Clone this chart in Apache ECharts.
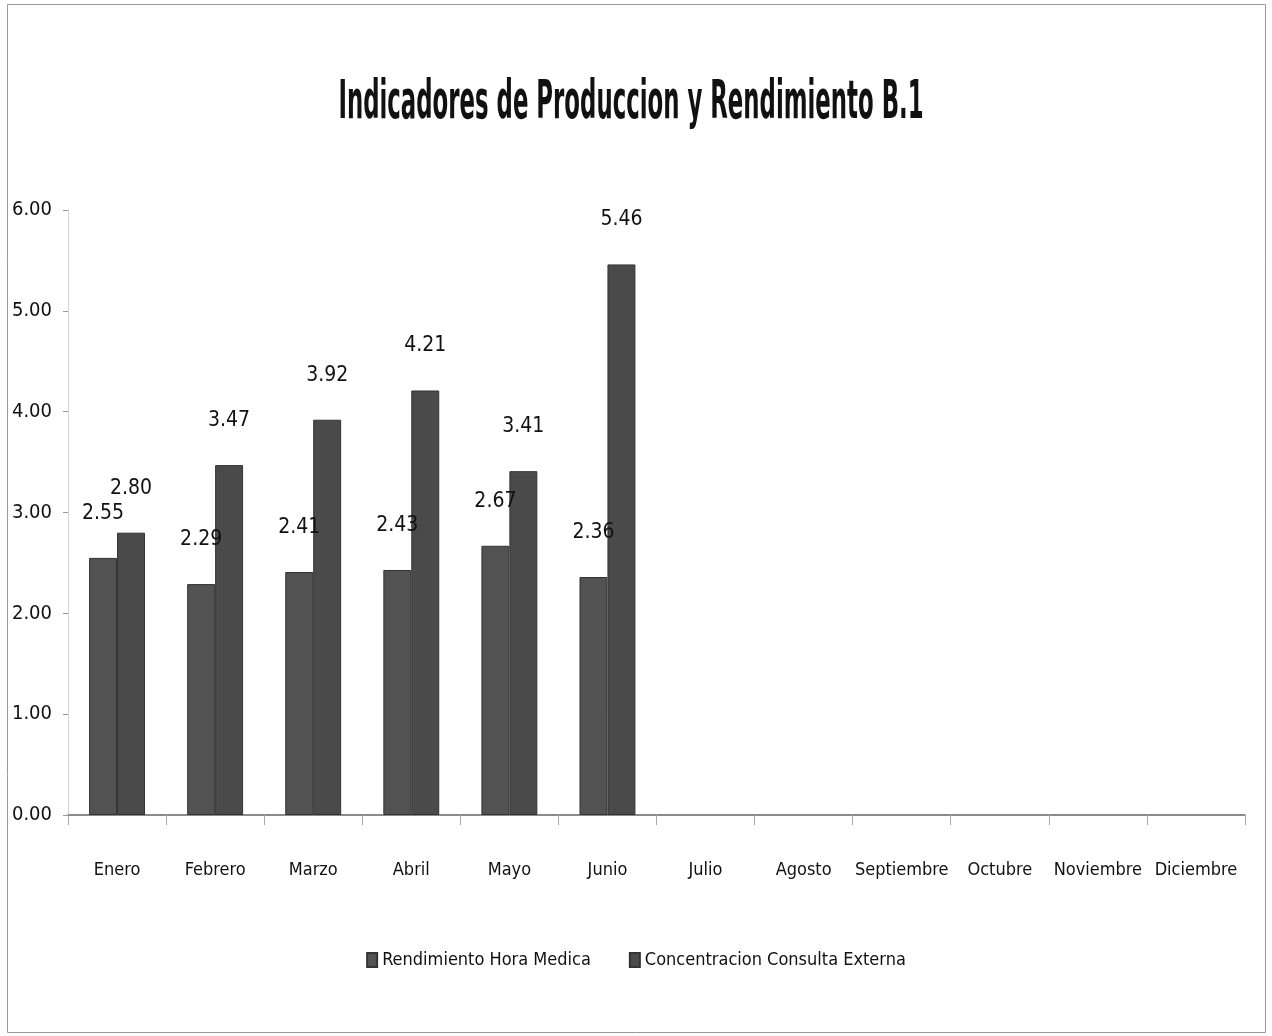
<!DOCTYPE html>
<html><head><meta charset="utf-8">
<script src="https://cdn.jsdelivr.net/npm/echarts@6/dist/echarts.min.js"></script>
<style>html,body{margin:0;padding:0;background:#fff}#c{width:1272px;height:1036px}</style>
</head><body><div id="c"></div>
<script>
const categories = ['Enero','Febrero','Marzo','Abril','Mayo','Junio','Julio','Agosto','Septiembre','Octubre','Noviembre','Diciembre'];
const rendimientoHoraMedica = [2.55, 2.29, 2.41, 2.43, 2.67, 2.36, null, null, null, null, null, null];
const concentracionConsultaExterna = [2.80, 3.47, 3.92, 4.21, 3.41, 5.46, null, null, null, null, null, null];
const seriesNames = ['Rendimiento Hora Medica', 'Concentracion Consulta Externa'];
const chartTitle = 'Indicadores de Produccion y Rendimiento B.1';
const yTicks = {min: 0, max: 6, interval: 1};

const FONT = "'DejaVu Sans Condensed','Liberation Sans Narrow','Liberation Sans',sans-serif";
const chart = echarts.init(document.getElementById('c'));
const lbl = {show: true, position: 'top', distance: 34, fontFamily: FONT, fontSize: 21, color: '#111',
  formatter: p => p.value == null ? '' : p.value.toFixed(2)};
chart.setOption({
  animation: false,
  textStyle: {fontFamily: FONT},
  legend: {top: 946, left: 'center', itemWidth: 10, itemHeight: 14, itemGap: 38, icon: 'rect',
    textStyle: {fontFamily: FONT, fontSize: 18, color: '#111'}, data: seriesNames},
  grid: {left: 68, right: 27, top: 210, bottom: 221},
  xAxis: {type: 'category', data: categories,
    axisLine: {lineStyle: {color: '#666', width: 1.5}},
    axisTick: {show: true, length: 10, lineStyle: {color: '#aaa'}},
    axisLabel: {fontFamily: FONT, fontSize: 18, color: '#111', margin: 46, interval: 0}},
  yAxis: {type: 'value', min: yTicks.min, max: yTicks.max, interval: yTicks.interval,
    axisLine: {show: true, lineStyle: {color: '#ccc', type: 'dotted'}},
    axisTick: {show: true, length: 5, lineStyle: {color: '#999'}},
    splitLine: {show: false},
    axisLabel: {fontFamily: FONT, fontSize: 20, color: '#111', margin: 16, formatter: v => v.toFixed(2)}},
  series: [
    {name: seriesNames[0], type: 'bar', data: rendimientoHoraMedica, barGap: '0%', barCategoryGap: '43%',
      itemStyle: {color: '#525252', borderColor: '#333', borderWidth: 1}, label: lbl},
    {name: seriesNames[1], type: 'bar', data: concentracionConsultaExterna,
      itemStyle: {color: '#4a4a4a', borderColor: '#333', borderWidth: 1}, label: lbl}
  ],
  graphic: [
    {type: 'rect', left: 5, top: 2, shape: {width: 1258, height: 1028},
      style: {fill: 'none', stroke: '#999', lineWidth: 1}},
    {type: 'text', x: 631, y: 104, scaleX: 0.47,
      style: {text: chartTitle, fontFamily: FONT, fontSize: 54, fontWeight: 'bold', fill: '#111',
        align: 'center', verticalAlign: 'middle', textAlign: 'center', textVerticalAlign: 'middle'}}
  ]
});
</script></body></html>
